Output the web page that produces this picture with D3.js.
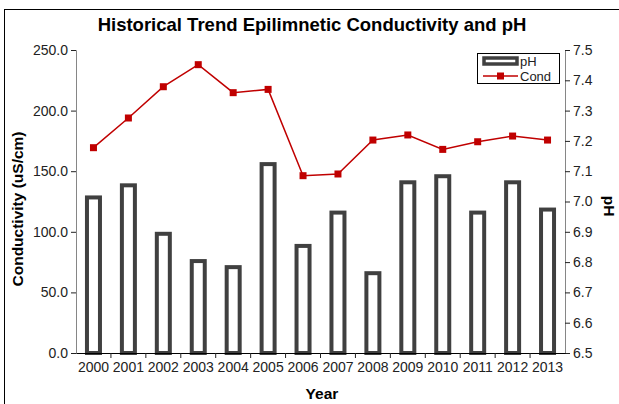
<!DOCTYPE html>
<html>
<head>
<meta charset="utf-8">
<script src="https://cdn.jsdelivr.net/npm/d3@7"></script>
<style>
  body { margin: 0; background: #fff; }
  svg { display: block; font-family: "Liberation Sans", Arial, sans-serif; }
</style>
</head>
<body>
<svg id="chart" width="619" height="404"></svg>
<script>
// values
const years = ['2000', '2001', '2002', '2003', '2004', '2005', '2006',
    '2007', '2008', '2009', '2010', '2011', '2012', '2013'];
const phValues = [7.02, 7.06, 6.90, 6.81, 6.79, 7.13, 6.86, 6.97, 6.77, 7.07, 7.09, 6.97, 7.07, 6.98];
const condValues = [169.4, 193.9, 219.7, 237.9, 214.8, 217.5, 146.3, 147.7, 175.7, 179.9, 168.0, 174.3, 179.0, 175.7];
const condTicks = [0, 50, 100, 150, 200, 250];
const phTicks = [6.5, 6.6, 6.7, 6.8, 6.9, 7.0, 7.1, 7.2, 7.3, 7.4, 7.5];

const width = 619, height = 404;
const marginLeft = 76, marginRight = 54, marginTop = 50, marginBottom = 51;
const tickFont = 14;

const svg = d3.select('#chart');

// outer frame (cut off at right/bottom like the original)
svg.append('rect')
    .attr('x', 4.5).attr('y', 9.5)
    .attr('width', 640).attr('height', 420)
    .attr('fill', 'none').attr('stroke', '#000').attr('stroke-width', 1);

const x = d3.scaleBand()
    .domain(years)
    .range([marginLeft, width - marginRight]);

const yLeft = d3.scaleLinear()
    .domain([0, 250])
    .range([height - marginBottom, marginTop]);

const yRight = d3.scaleLinear()
    .domain([6.5, 7.5])
    .range([height - marginBottom, marginTop]);

// Bars (pH)
const barW = 13;
svg.append('g')
    .selectAll('rect')
    .data(years)
    .join('rect')
        .attr('x', d => x(d) + x.bandwidth() / 2 - barW / 2)
        .attr('y', (d, i) => yRight(phValues[i]) + 2)
        .attr('width', barW)
        .attr('height', (d, i) => yRight(6.5) - yRight(phValues[i]) - 2)
        .attr('fill', '#fff')
        .attr('stroke', '#404040')
        .attr('stroke-width', 4);

// Left axis
const leftAxis = svg.append('g')
    .attr('transform', `translate(${marginLeft},0)`)
    .call(d3.axisLeft(yLeft).tickValues(condTicks).tickFormat(d3.format('.1f')).tickSizeOuter(0).tickSize(5));
leftAxis.select('.domain').attr('stroke', '#868686');
leftAxis.selectAll('.tick line').attr('stroke', '#222');
leftAxis.selectAll('text').attr('font-size', tickFont).attr('fill', '#222').attr('font-family', 'Liberation Sans, Arial, sans-serif');

// Right axis
const rightAxis = svg.append('g')
    .attr('transform', `translate(${width - marginRight},0)`)
    .call(d3.axisRight(yRight).tickValues(phTicks).tickFormat(d3.format('.1f')).tickSizeOuter(0).tickSize(5));
rightAxis.select('.domain').attr('stroke', '#868686');
rightAxis.selectAll('.tick line').attr('stroke', '#222');
rightAxis.selectAll('text').attr('font-size', tickFont).attr('fill', '#222').attr('font-family', 'Liberation Sans, Arial, sans-serif');

// X axis: labels centred in band, ticks on band boundaries
const xAxis = svg.append('g')
    .attr('transform', `translate(0,${height - marginBottom})`)
    .call(d3.axisBottom(x).tickSize(0).tickSizeOuter(0).tickPadding(9));
xAxis.select('.domain').attr('stroke', '#000');
xAxis.selectAll('text').attr('font-size', tickFont).attr('fill', '#222').attr('font-family', 'Liberation Sans, Arial, sans-serif');
xAxis.selectAll('.boundary')
    .data(years.slice(1))
    .join('line')
        .attr('class', 'boundary')
        .attr('x1', d => x(d)).attr('x2', d => x(d))
        .attr('y1', 0).attr('y2', 5)
        .attr('stroke', '#222');

// Conductivity line
const line = d3.line()
    .x((d, i) => x(years[i]) + x.bandwidth() / 2)
    .y(d => yLeft(d));

svg.append('path')
    .datum(condValues)
    .attr('d', line)
    .attr('fill', 'none')
    .attr('stroke', '#c00000')
    .attr('stroke-width', 1.5);

svg.append('g')
    .selectAll('rect')
    .data(condValues)
    .join('rect')
        .attr('x', (d, i) => x(years[i]) + x.bandwidth() / 2 - 3.5)
        .attr('y', d => yLeft(d) - 3.5)
        .attr('width', 7)
        .attr('height', 7)
        .attr('fill', '#c00000');

// Title and axis titles
svg.append('text')
    .attr('x', 312).attr('y', 31)
    .attr('text-anchor', 'middle')
    .attr('font-size', 18.5).attr('font-weight', 'bold')
    .text('Historical Trend Epilimnetic Conductivity and pH');

svg.append('text')
    .attr('transform', 'translate(23,209) rotate(-90)')
    .attr('text-anchor', 'middle')
    .attr('font-size', 15.5).attr('font-weight', 'bold')
    .text('Conductivity (uS/cm)');

svg.append('text')
    .attr('transform', 'translate(604,206) rotate(90)')
    .attr('text-anchor', 'middle')
    .attr('font-size', 15.5).attr('font-weight', 'bold')
    .text('pH');

svg.append('text')
    .attr('x', 322).attr('y', 399)
    .attr('text-anchor', 'middle')
    .attr('font-size', 15.5).attr('font-weight', 'bold')
    .text('Year');

// Legend
const legend = svg.append('g').attr('transform', 'translate(477,53)');
legend.append('rect')
    .attr('x', 0.5).attr('y', 0.5).attr('width', 82).attr('height', 30)
    .attr('fill', '#fff').attr('stroke', '#000').attr('stroke-width', 1);
legend.append('rect')
    .attr('x', 7).attr('y', 5).attr('width', 33).attr('height', 6)
    .attr('fill', '#fff').attr('stroke', '#404040').attr('stroke-width', 3.5);
legend.append('text')
    .attr('x', 43).attr('y', 12.5).attr('font-size', 13).attr('fill', '#222')
    .text('pH');
legend.append('line')
    .attr('x1', 6).attr('x2', 41).attr('y1', 23).attr('y2', 23)
    .attr('stroke', '#c00000').attr('stroke-width', 1.5);
legend.append('rect')
    .attr('x', 20).attr('y', 19.5).attr('width', 7).attr('height', 7)
    .attr('fill', '#c00000');
legend.append('text')
    .attr('x', 43).attr('y', 27.5).attr('font-size', 13).attr('fill', '#222')
    .text('Cond');
</script>
</body>
</html>
